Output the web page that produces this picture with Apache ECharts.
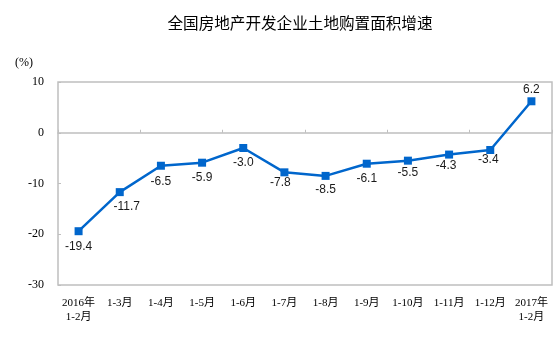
<!DOCTYPE html>
<html>
<head>
<meta charset="utf-8">
<script src="https://cdn.jsdelivr.net/npm/echarts@6/dist/echarts.min.js"></script>
<style>
html,body{margin:0;padding:0;background:#fff;}
#chart{width:557px;height:338px;}
</style>
</head>
<body>
<div id="chart"></div>
<script>
// Period labels (cumulative months)
var categories = ['2016年\n1-2月', '1-3月', '1-4月', '1-5月', '1-6月', '1-7月', '1-8月', '1-9月', '1-10月', '1-11月', '1-12月', '2017年\n1-2月'];
// Year-on-year growth of land purchase area (%)
var growth = [-19.4, -11.7, -6.5, -5.9, -3.0, -7.8, -8.5, -6.1, -5.5, -4.3, -3.4, 6.2];
// Value axis ticks
var yTicks = [-30, -20, -10, 0, 10];

// Small nudges so value labels clear the line
var labelOffsets = [[0, 0], [7, 0], [0, 1], [0, 0], [0, 0], [-4, -5], [0, -1], [0, 0], [0, -3], [-3, -4], [-2, -5], [0, 3]];

var chart = echarts.init(document.getElementById('chart'));
var axisFont = "'Liberation Serif','Noto Sans CJK SC',serif";
var sansFont = "'Liberation Sans','Noto Sans CJK SC',sans-serif";

chart.setOption({
  animation: false,
  backgroundColor: '#ffffff',
  title: {
    text: '全国房地产开发企业土地购置面积增速',
    left: 295,
    textAlign: 'center',
    top: 12,
    textStyle: { fontFamily: sansFont, fontSize: 15.6, fontWeight: 'normal', color: '#000' }
  },
  graphic: [{
    type: 'text',
    left: 15,
    top: 57,
    style: { text: '(%)', font: "12px " + axisFont, fill: '#000' }
  }],
  grid: {
    left: 58, right: 5, top: 82, bottom: 53,
    show: true, borderColor: '#bfbfbf', borderWidth: 1.5, backgroundColor: 'transparent'
  },
  xAxis: [{
    type: 'category',
    data: categories,
    position: 'bottom',
    axisLine: { show: false, onZero: false },
    axisTick: { show: false },
    axisLabel: {
      interval: 0, margin: 11, fontSize: 11, lineHeight: 14,
      fontFamily: axisFont, color: '#000'
    }
  }, {
    type: 'category',
    data: categories,
    position: 'bottom',
    axisLine: { show: true, onZero: true, lineStyle: { color: '#bfbfbf', width: 1.5 } },
    axisTick: { show: true, inside: true, length: 3, lineStyle: { color: '#bfbfbf' } },
    axisLabel: { show: false }
  }],
  yAxis: {
    type: 'value',
    min: yTicks[0],
    max: yTicks[yTicks.length - 1],
    interval: 10,
    axisLine: { show: false },
    axisTick: { show: true, inside: true, length: 3, lineStyle: { color: '#bfbfbf' } },
    splitLine: { show: false },
    axisLabel: { margin: 14, fontSize: 12, fontFamily: axisFont, color: '#000' }
  },
  series: [{
    type: 'line',
    data: growth.map(function (v, i) {
      return {
        value: v,
        label: {
          position: i === growth.length - 1 ? 'top' : 'bottom',
          offset: labelOffsets[i]
        }
      };
    }),
    symbol: 'rect',
    symbolSize: 8,
    lineStyle: { color: '#0066cc', width: 2.5 },
    itemStyle: { color: '#0066cc' },
    label: {
      show: true,
      fontSize: 12,
      fontFamily: sansFont,
      color: '#1a1a1a',
      formatter: function (p) { return p.value.toFixed(1); }
    }
  }]
});
</script>
</body>
</html>
